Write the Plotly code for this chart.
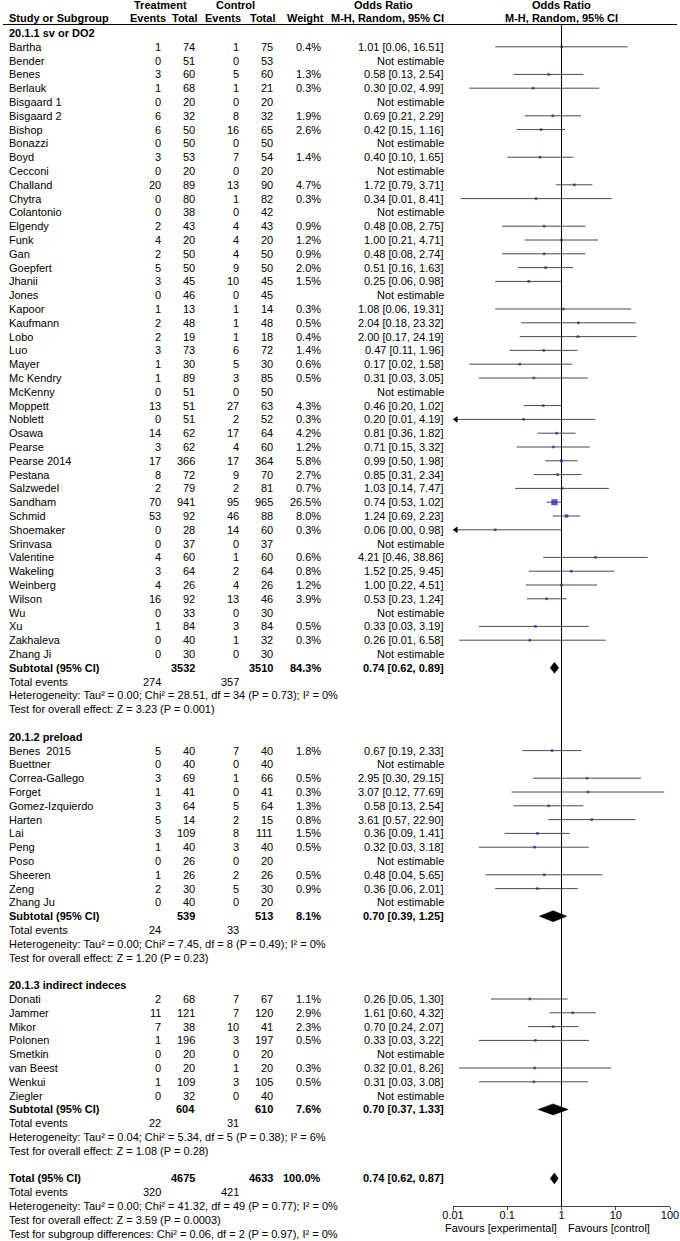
import math
import plotly.graph_objects as go

W, H = 680, 1241
FONT = "Liberation Sans"

# ---------------- data ----------------
g1_title = "20.1.1 sv or DO2"
g1_names = ["Bartha", "Bender", "Benes", "Berlauk", "Bisgaard 1", "Bisgaard 2", "Bishop", "Bonazzi", "Boyd",
            "Cecconi", "Challand", "Chytra", "Colantonio", "Elgendy", "Funk", "Gan", "Goepfert", "Jhanii", "Jones",
            "Kapoor", "Kaufmann", "Lobo", "Luo", "Mayer", "Mc Kendry", "McKenny", "Moppett", "Noblett", "Osawa",
            "Pearse", "Pearse 2014", "Pestana", "Salzwedel", "Sandham", "Schmid", "Shoemaker", "Srinvasa",
            "Valentine", "Wakeling", "Weinberg", "Wilson", "Wu", "Xu", "Zakhaleva", "Zhang Ji"]
g1_te = [1, 0, 3, 1, 0, 6, 6, 0, 3, 0, 20, 0, 0, 2, 4, 2, 5, 3, 0, 1, 2, 2, 3, 1, 1, 0, 13, 0, 14, 3, 17, 8, 2, 70, 53,
         0, 0, 4, 3, 4, 16, 0, 1, 0, 0]
g1_tt = [74, 51, 60, 68, 20, 32, 50, 50, 53, 20, 89, 80, 38, 43, 20, 50, 50, 45, 46, 13, 48, 19, 73, 30, 89, 51, 51, 51,
         62, 62, 366, 72, 79, 941, 92, 28, 37, 60, 64, 26, 92, 33, 84, 40, 30]
g1_ce = [1, 0, 5, 1, 0, 8, 16, 0, 7, 0, 13, 1, 0, 4, 4, 4, 9, 10, 0, 1, 1, 1, 6, 5, 3, 0, 27, 2, 17, 4, 17, 9, 2, 95, 46,
         14, 0, 1, 2, 4, 13, 0, 3, 1, 0]
g1_ct = [75, 53, 60, 21, 20, 32, 65, 50, 54, 20, 90, 82, 42, 43, 20, 50, 50, 45, 45, 14, 48, 18, 72, 30, 85, 50, 63, 52,
         64, 60, 364, 70, 81, 965, 88, 60, 37, 60, 64, 26, 46, 30, 84, 32, 30]
g1_w = [0.4, None, 1.3, 0.3, None, 1.9, 2.6, None, 1.4, None, 4.7, 0.3, None, 0.9, 1.2, 0.9, 2.0, 1.5, None, 0.3, 0.5,
        0.4, 1.4, 0.6, 0.5, None, 4.3, 0.3, 4.2, 1.2, 5.8, 2.7, 0.7, 26.5, 8.0, 0.3, None, 0.6, 0.8, 1.2, 3.9, None,
        0.5, 0.3, None]
g1_or = [1.01, None, 0.58, 0.30, None, 0.69, 0.42, None, 0.40, None, 1.72, 0.34, None, 0.48, 1.00, 0.48, 0.51, 0.25,
         None, 1.08, 2.04, 2.00, 0.47, 0.17, 0.31, None, 0.46, 0.20, 0.81, 0.71, 0.99, 0.85, 1.03, 0.74, 1.24, 0.06,
         None, 4.21, 1.52, 1.00, 0.53, None, 0.33, 0.26, None]
g1_lo = [0.06, None, 0.13, 0.02, None, 0.21, 0.15, None, 0.10, None, 0.79, 0.014, None, 0.08, 0.21, 0.08, 0.16, 0.06,
         None, 0.06, 0.18, 0.17, 0.11, 0.02, 0.03, None, 0.20, 0.0096, 0.36, 0.15, 0.50, 0.31, 0.14, 0.53, 0.69, 0.003,
         None, 0.46, 0.25, 0.22, 0.23, None, 0.03, 0.013, None]
g1_hi = [16.51, None, 2.54, 4.99, None, 2.29, 1.16, None, 1.65, None, 3.71, 8.41, None, 2.75, 4.71, 2.74, 1.63, 0.98,
         None, 19.31, 23.32, 24.19, 1.96, 1.58, 3.05, None, 1.02, 4.19, 1.82, 3.32, 1.98, 2.34, 7.47, 1.02, 2.23, 0.98,
         None, 38.86, 9.45, 4.51, 1.24, None, 3.19, 6.58, None]
g1_sub = dict(tt=3532, ct=3510, w=84.3, est=0.74, lo=0.62, hi=0.89, ev_t=274, ev_c=357,
              het="Heterogeneity: Tau² = 0.00; Chi² = 28.51, df = 34 (P = 0.73); I² = 0%",
              test="Test for overall effect: Z = 3.23 (P = 0.001)")

g2_title = "20.1.2 preload"
g2_names = ["Benes  2015", "Buettner", "Correa-Gallego", "Forget", "Gomez-Izquierdo", "Harten", "Lai", "Peng", "Poso",
            "Sheeren", "Zeng", "Zhang Ju"]
g2_te = [5, 0, 3, 1, 3, 5, 3, 1, 0, 1, 2, 0]
g2_tt = [40, 40, 69, 41, 64, 14, 109, 40, 26, 26, 30, 40]
g2_ce = [7, 0, 1, 0, 5, 2, 8, 3, 0, 2, 5, 0]
g2_ct = [40, 40, 66, 41, 64, 15, 111, 40, 20, 26, 30, 20]
g2_w = [1.8, None, 0.5, 0.3, 1.3, 0.8, 1.5, 0.5, None, 0.5, 0.9, None]
g2_or = [0.67, None, 2.95, 3.07, 0.58, 3.61, 0.36, 0.32, None, 0.48, 0.36, None]
g2_lo = [0.19, None, 0.30, 0.12, 0.13, 0.57, 0.09, 0.03, None, 0.04, 0.06, None]
g2_hi = [2.33, None, 29.15, 77.69, 2.54, 22.90, 1.41, 3.18, None, 5.65, 2.01, None]
g2_sub = dict(tt=539, ct=513, w=8.1, est=0.70, lo=0.39, hi=1.25, ev_t=24, ev_c=33,
              het="Heterogeneity: Tau² = 0.00; Chi² = 7.45, df = 8 (P = 0.49); I² = 0%",
              test="Test for overall effect: Z = 1.20 (P = 0.23)")

g3_title = "20.1.3 indirect indeces"
g3_names = ["Donati", "Jammer", "Mikor", "Polonen", "Smetkin", "van Beest", "Wenkui", "Ziegler"]
g3_te = [2, 11, 7, 1, 0, 0, 1, 0]
g3_tt = [68, 121, 38, 196, 20, 20, 109, 32]
g3_ce = [7, 7, 10, 3, 0, 1, 3, 0]
g3_ct = [67, 120, 41, 197, 20, 20, 105, 40]
g3_w = [1.1, 2.9, 2.3, 0.5, None, 0.3, 0.5, None]
g3_or = [0.26, 1.61, 0.70, 0.33, None, 0.32, 0.31, None]
g3_lo = [0.05, 0.60, 0.24, 0.03, None, 0.013, 0.03, None]
g3_hi = [1.30, 4.32, 2.07, 3.22, None, 8.26, 3.08, None]
g3_sub = dict(tt=604, ct=610, w=7.6, est=0.70, lo=0.37, hi=1.33, ev_t=22, ev_c=31,
              het="Heterogeneity: Tau² = 0.04; Chi² = 5.34, df = 5 (P = 0.38); I² = 6%",
              test="Test for overall effect: Z = 1.08 (P = 0.28)")

total = dict(tt=4675, ct=4633, w=100.0, est=0.74, lo=0.62, hi=0.87, ev_t=320, ev_c=421,
             het="Heterogeneity: Tau² = 0.00; Chi² = 41.32, df = 49 (P = 0.77); I² = 0%",
             test="Test for overall effect: Z = 3.59 (P = 0.0003)",
             sub="Test for subgroup differences: Chi² = 0.06, df = 2 (P = 0.97), I² = 0%")

axis_ticks = [0.01, 0.1, 1, 10, 100]
axis_ticktext = ["0.01", "0.1", "1", "10", "100"]

# ---------------- layout constants (pixels) ----------------
AX_Y = 1206
PX0, PX1 = 453, 670
ROW0, PITCH = 33.0, 13.8
C_NAME, C_TE, C_TT, C_CE, C_CT, C_W, C_OR = 8, 162, 196, 240, 274, 322, 445

ann = []


def T(x, y, s, anchor="left", bold=False, size=11):
    if bold:
        s = "<b>" + s + "</b>"
    ann.append(dict(x=x / W, y=1 - y / H, xref="paper", yref="paper", text=s, showarrow=False,
                    xanchor=anchor, yanchor="middle", borderpad=0,
                    font=dict(family=FONT, size=size, color="black")))


def rowy(k):
    return ROW0 + PITCH * k


def fmt_ci(o, l, h):
    return f"{o:.2f} [{l:.2f}, {h:.2f}]"


# headers
T(160, 5, "Treatment", "center", True)
T(235, 5, "Control", "center", True)
T(383, 5, "Odds Ratio", "center", True)
T(561.5, 5, "Odds Ratio", "center", True)
T(C_NAME, 18, "Study or Subgroup", "left", True)
T(148, 18, "Events", "center", True)
T(184, 18, "Total", "center", True)
T(223, 18, "Events", "center", True)
T(262, 18, "Total", "center", True)
T(305, 18, "Weight", "center", True)
T(C_OR, 18, "M-H, Random, 95% CI", "right", True)
T(561.5, 18, "M-H, Random, 95% CI", "center", True)

ci_x, ci_y = [], []
sq_x, sq_y, sq_s = [], [], []
arr_x, arr_y = [], []
diamonds = []

groups = [
    (g1_title, g1_names, g1_te, g1_tt, g1_ce, g1_ct, g1_w, g1_or, g1_lo, g1_hi, g1_sub),
    (g2_title, g2_names, g2_te, g2_tt, g2_ce, g2_ct, g2_w, g2_or, g2_lo, g2_hi, g2_sub),
    (g3_title, g3_names, g3_te, g3_tt, g3_ce, g3_ct, g3_w, g3_or, g3_lo, g3_hi, g3_sub),
]

lo_lim, hi_lim = axis_ticks[0], axis_ticks[-1]
k = 0
for title, names, te, tt, ce, ct, w, orr, lo, hi, sub in groups:
    T(C_NAME, rowy(k), title, "left", True)
    k += 1
    for i, n in enumerate(names):
        y = rowy(k)
        T(C_NAME, y, n)
        T(C_TE, y, str(te[i]), "right")
        T(C_TT, y, str(tt[i]), "right")
        T(C_CE, y, str(ce[i]), "right")
        T(C_CT, y, str(ct[i]), "right")
        if orr[i] is None:
            T(C_OR, y, "Not estimable", "right")
        else:
            T(C_W, y, f"{w[i]:.1f}%", "right")
            T(C_OR, y, fmt_ci(orr[i], lo[i], hi[i]), "right")
            ci_x += [max(lo[i], lo_lim), min(hi[i], hi_lim), None]
            ci_y += [y, y, None]
            sq_x.append(orr[i])
            sq_y.append(y)
            sq_s.append(max(2.6, 6.2 * math.sqrt(w[i] / 26.5)))
            if lo[i] < lo_lim:
                arr_x.append(lo_lim * 10 ** (3 / 54.25))
                arr_y.append(y)
        k += 1
    y = rowy(k)
    T(C_NAME, y, "Subtotal (95% CI)", "left", True)
    T(C_TT, y, str(sub["tt"]), "right", True)
    T(C_CT, y, str(sub["ct"]), "right", True)
    T(C_W, y, f"{sub['w']:.1f}%", "right", True)
    T(C_OR, y, fmt_ci(sub["est"], sub["lo"], sub["hi"]), "right", True)
    diamonds.append((sub["est"], sub["lo"], sub["hi"], y))
    k += 1
    T(C_NAME, rowy(k), "Total events")
    T(C_TE, rowy(k), str(sub["ev_t"]), "right")
    T(C_CE, rowy(k), str(sub["ev_c"]), "right")
    T(C_NAME, rowy(k + 1), sub["het"])
    T(C_NAME, rowy(k + 2), sub["test"])
    k += 4

y = rowy(k)
T(C_NAME, y, "Total (95% CI)", "left", True)
T(C_TT, y, str(total["tt"]), "right", True)
T(C_CT, y, str(total["ct"]), "right", True)
T(C_W, y, f"{total['w']:.1f}%", "right", True)
T(C_OR, y, fmt_ci(total["est"], total["lo"], total["hi"]), "right", True)
diamonds.append((total["est"], total["lo"], total["hi"], y))
T(C_NAME, rowy(k + 1), "Total events")
T(C_TE, rowy(k + 1), str(total["ev_t"]), "right")
T(C_CE, rowy(k + 1), str(total["ev_c"]), "right")
T(C_NAME, rowy(k + 2), total["het"])
T(C_NAME, rowy(k + 3), total["test"])
T(C_NAME, rowy(k + 4), total["sub"])

T(558, 1228, "Favours [experimental]", "right")
T(567, 1228, "Favours [control]", "left")

fig = go.Figure()
# null line
fig.add_trace(go.Scatter(x=[1, 1], y=[24.5, AX_Y], mode="lines", line=dict(color="black", width=1),
                         hoverinfo="skip", cliponaxis=False))
# CIs
fig.add_trace(go.Scatter(x=ci_x, y=ci_y, mode="lines", line=dict(color="#4a4a4a", width=1),
                         hoverinfo="skip", connectgaps=False))
# arrows
fig.add_trace(go.Scatter(x=arr_x, y=arr_y, mode="markers", cliponaxis=False,
                         marker=dict(symbol="triangle-left", size=6, color="black"), hoverinfo="skip"))
# squares
fig.add_trace(go.Scatter(x=sq_x, y=sq_y, mode="markers",
                         marker=dict(symbol="square", size=sq_s, color="#1c1ca8", line=dict(width=0)),
                         hoverinfo="skip"))
# diamonds
for est, l, h, y in diamonds:
    fig.add_trace(go.Scatter(x=[l, est, h, est, l], y=[y, y - 5.5, y, y + 5.5, y], mode="lines",
                             fill="toself", fillcolor="black", line=dict(color="black", width=0.5),
                             hoverinfo="skip"))

fig.update_layout(
    width=W, height=H, margin=dict(l=0, r=0, t=0, b=0),
    paper_bgcolor="white", plot_bgcolor="white", showlegend=False,
    annotations=ann,
    shapes=[dict(type="line", xref="paper", yref="paper", x0=3 / W, x1=677 / W,
                 y0=1 - 24.5 / H, y1=1 - 24.5 / H, line=dict(color="black", width=1))],
    xaxis=dict(type="log", range=[math.log10(lo_lim), math.log10(hi_lim)],
               domain=[PX0 / W, PX1 / W], anchor="y", automargin=False,
               showline=True, linecolor="#444", linewidth=1, mirror=False,
               ticks="outside", ticklen=3, tickcolor="#444", tickwidth=1,
               ticklabelstandoff=-4,
               tickvals=axis_ticks, ticktext=axis_ticktext,
               tickfont=dict(family=FONT, size=11, color="black"),
               showgrid=False, zeroline=False, fixedrange=True),
    yaxis=dict(domain=[1 - AX_Y / H, 1], range=[AX_Y, 0], visible=False, automargin=False,
               showgrid=False, zeroline=False, fixedrange=True),
)

fig.write_html("out.html", config={"displayModeBar": False},
               post_script="document.body.style.margin='0';document.body.style.overflow='hidden';")
